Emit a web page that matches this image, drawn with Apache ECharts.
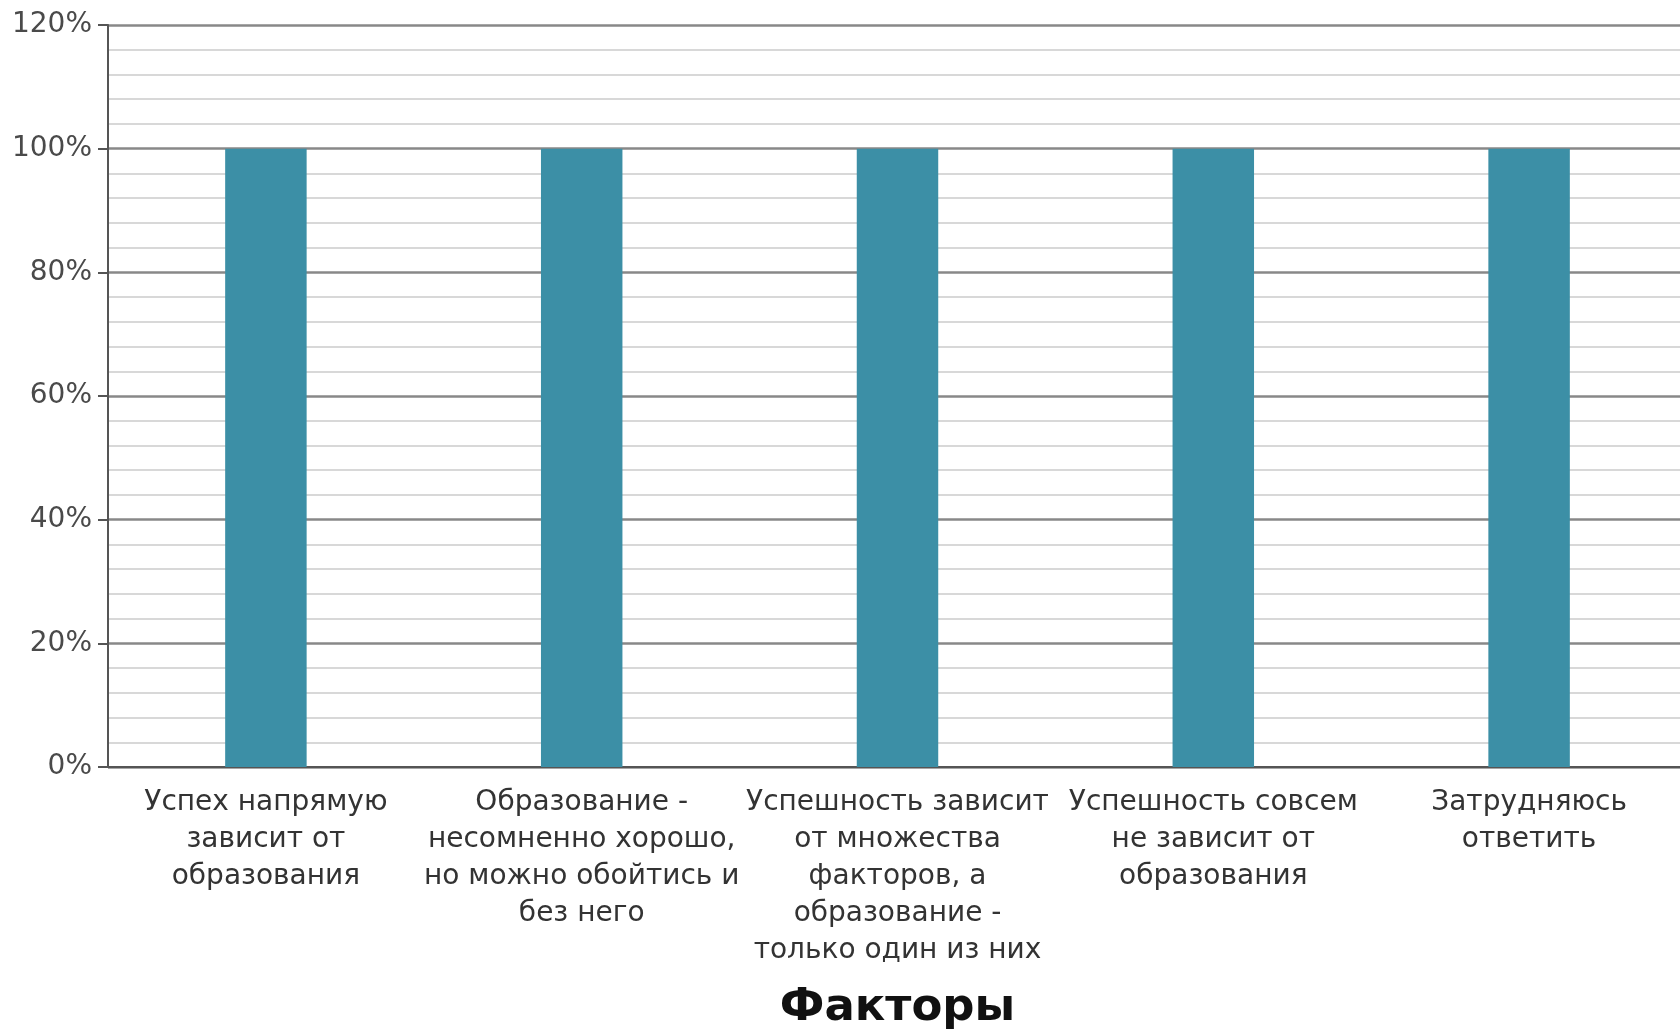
<!DOCTYPE html>
<html>
<head>
<meta charset="utf-8">
<script src="https://cdn.jsdelivr.net/npm/echarts@6/dist/echarts.min.js"></script>
<style>
html,body{margin:0;padding:0;background:#fff;overflow:hidden;}
#chart{width:1680px;height:1036px;}
</style>
</head>
<body>
<div id="chart"></div>
<script>
const categories = [
  "Успех напрямую\nзависит от\nобразования",
  "Образование -\nнесомненно хорошо,\nно можно обойтись и\nбез него",
  "Успешность зависит\nот множества\nфакторов, а\nобразование -\nтолько один из них",
  "Успешность совсем\nне зависит от\nобразования",
  "Затрудняюсь\nответить"
];
const values = [100, 100, 100, 100, 100];
const yTicks = [0, 20, 40, 60, 80, 100, 120];
const axisTitle = "Факторы";

const chart = echarts.init(document.getElementById('chart'), null, {renderer: 'canvas'});
chart.setOption({
  animation: false,
  backgroundColor: '#ffffff',
  grid: {left: 108, right: -7, top: 25, bottom: 269, outerBoundsMode: 'none', containLabel: false},
  xAxis: {
    type: 'category',
    data: categories,
    name: axisTitle,
    nameLocation: 'middle',
    nameGap: 219,
    nameTextStyle: {fontFamily: 'DejaVu Sans', fontSize: 45, fontWeight: 'bold', color: '#111'},
    axisLine: {show: true, lineStyle: {color: '#555', width: 2}},
    axisTick: {show: false},
    axisLabel: {
      interval: 0,
      margin: 17,
      fontFamily: 'DejaVu Sans',
      fontSize: 28,
      lineHeight: 37,
      color: '#333'
    },
    splitLine: {show: false}
  },
  yAxis: {
    type: 'value',
    min: yTicks[0],
    max: yTicks[yTicks.length - 1],
    interval: yTicks[1] - yTicks[0],
    axisLine: {show: true, lineStyle: {color: '#555', width: 2}},
    axisTick: {show: true, length: 10, lineStyle: {color: '#555', width: 2}},
    axisLabel: {
      formatter: '{value}%',
      margin: 16,
      fontFamily: 'DejaVu Sans',
      fontSize: 28,
      color: '#4a4a4a'
    },
    splitLine: {show: true, lineStyle: {color: '#888', width: 2.5}},
    minorTick: {show: false, splitNumber: 5},
    minorSplitLine: {show: true, lineStyle: {color: '#d8d8d8', width: 2}}
  },
  series: [{
    type: 'bar',
    data: values,
    barWidth: '25.8%',
    itemStyle: {color: '#3c8fa6'}
  }]
});
</script>
</body>
</html>
